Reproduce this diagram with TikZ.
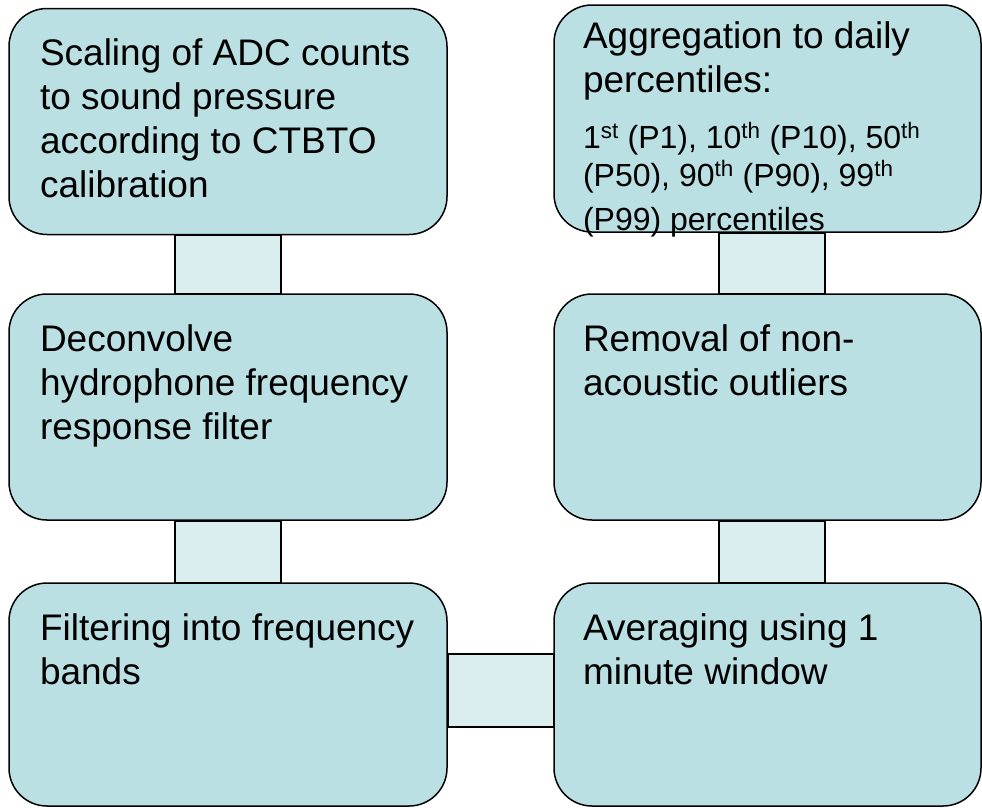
\documentclass[tikz,border=0pt]{standalone}
\usepackage{fontspec}
\setmainfont{Liberation Sans}
\usetikzlibrary{calc,backgrounds}
\definecolor{boxc}{HTML}{BBE0E3}
\definecolor{linkc}{HTML}{DAEDEF}
\newcommand{\pctsmall}{\fontsize{32}{38}\selectfont}
\tikzset{
  stepbox/.style={draw=black, fill=boxc, line width=1.5pt, rounded corners=38pt,
                  align=flush left, font=\fontsize{37}{44}\selectfont,
                  inner xsep=31pt, inner ysep=30pt, text width=376pt,
                  text height=27pt, text depth=139pt},
  rstep/.style={stepbox, inner xsep=29pt, text width=369pt},
  link/.style={draw=black, fill=linkc, line width=1.5pt},
}
\begin{document}
\begin{tikzpicture}[x=1pt, y=-1pt]
  \useasboundingbox (0,0) rectangle (982,807);
  % left column, top to bottom
  \node[stepbox] (scale) at (228,121.5) {Scaling of ADC counts\\to sound pressure\\according to CTBTO\\calibration};
  \node[stepbox] (decon) at (228,407) {Deconvolve\\hydrophone frequency\\response filter};
  \node[stepbox, text depth=136pt] (filt) at (228,694.5) {Filtering into frequency\\bands};
  % right column, bottom to top
  \node[rstep, text depth=136pt] (aver) at (767.5,694.5) {Averaging using 1\\minute window};
  \node[rstep] (remov) at (767.5,407) {Removal of non-\\acoustic outliers};
  \node[rstep, inner ysep=16pt, text depth=168pt] (aggr) at (767.5,118.5) {Aggregation to daily\\percentiles:\par
    \vspace{18pt}\pctsmall 1\textsuperscript{st} (P1), 10\textsuperscript{th} (P10), 50\textsuperscript{th}\\
    (P50), 90\textsuperscript{th} (P90), 99\textsuperscript{th}\\(P99) percentiles};
  % connecting bars
  \begin{scope}[on background layer]
    \draw[link] ($(scale.south)+(-53,0)$) rectangle ($(decon.north)+(53,0)$);
    \draw[link] ($(decon.south)+(-53,0)$) rectangle ($(filt.north)+(53,0)$);
    \draw[link] ($(filt.east)+(0,-40.5)$) rectangle ($(aver.west)+(0,32.5)$);
    \draw[link] ($(aver.north)+(-48.5,0)$) rectangle ($(remov.south)+(57.5,0)$);
    \draw[link] ($(remov.north)+(-48.5,0)$) rectangle ($(aggr.south)+(57.5,0)$);
  \end{scope}
\end{tikzpicture}
\end{document}
